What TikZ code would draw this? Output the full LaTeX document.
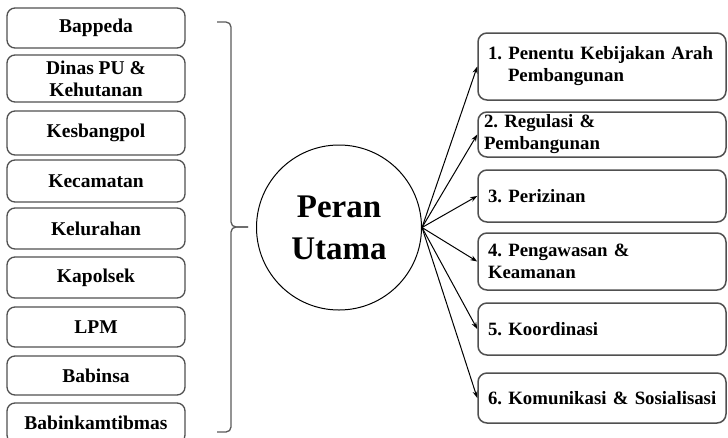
\documentclass[tikz,border=0pt]{standalone}
\usepackage{fontspec}
\setmainfont{Liberation Serif}
\usetikzlibrary{arrows.meta}
\definecolor{boxgray}{HTML}{505050}
\definecolor{bracegray}{HTML}{5A5A5A}

\begin{document}
\begin{tikzpicture}[x=1pt, y=-1pt, >={Stealth[length=7pt,width=5pt]}, line width=1pt,
  font=\bfseries\frenchspacing\fontsize{19.5}{22}\selectfont,
  unitbox/.style={draw=boxgray, line width=1.3pt, rounded corners=8pt, minimum width=178pt, inner sep=1pt, align=center},
  rolebox/.style={draw=boxgray, line width=1.5pt, rounded corners=9pt, text width=240pt, inner xsep=4pt, inner ysep=1pt, align=left,
    font=\bfseries\frenchspacing\fontsize{18.8}{22}\selectfont}]
  \useasboundingbox (0,0) rectangle (728,437);
  \node[unitbox, minimum height=40pt] (bappeda) at (96,28) {Bappeda};
  \node[unitbox, minimum height=47pt] (dinaspu) at (96,78.5) {Dinas PU \&\\Kehutanan};
  \node[unitbox, minimum height=44pt] (kesbangpol) at (96,133) {Kesbangpol};
  \node[unitbox, minimum height=42pt] (kecamatan) at (96,181) {Kecamatan};
  \node[unitbox, minimum height=41pt] (kelurahan) at (96,228.5) {Kelurahan};
  \node[unitbox, minimum height=41pt] (kapolsek) at (96,277.5) {Kapolsek};
  \node[unitbox, minimum height=40pt] (lpm) at (96,327) {LPM};
  \node[unitbox, minimum height=39pt] (babinsa) at (96,375.5) {Babinsa};
  \node[unitbox, minimum height=40pt] (babinkam) at (96,423) {Babinkamtibmas};
  \coordinate (bracetop) at (217,22);
  \coordinate (bracetip) at (248,227);
  \coordinate (bracebot) at (217,432);
  \draw[bracegray, line width=1.3pt, rounded corners=5pt] (bracetop) -- (231,22) -- (231,227) -- (bracetip);
  \draw[bracegray, line width=1.3pt, rounded corners=5pt] (bracetip) -- (231,227) -- (231,432) -- (bracebot);
  \node[circle, draw, line width=1pt, minimum size=165pt, align=center,
        font=\bfseries\fontsize{33}{42}\selectfont] (peran) at (339,227.5) {Peran\\Utama};
  \node[rolebox, minimum height=67pt] (kebijakan) at (602,66.5) {\hspace*{6pt}1. Penentu Kebijakan Arah\\\hspace*{26pt}Pembangunan};
  \node[rolebox, minimum height=45pt] (regulasi) at (602,134.5) {\hspace*{2pt}2. Regulasi \&\\\hspace*{2pt}Pembangunan};
  \node[rolebox, minimum height=52pt] (perizinan) at (602,196) {\hspace*{6pt}3. Perizinan};
  \node[rolebox, minimum height=57pt] (pengawasan) at (602,261.5) {\hspace*{6pt}4. Pengawasan \&\\\hspace*{6pt}Keamanan};
  \node[rolebox, minimum height=52pt] (koordinasi) at (602,329) {\hspace*{6pt}5. Koordinasi};
  \node[rolebox, minimum height=50pt] (komunikasi) at (602,398) {\hspace*{6pt}6. Komunikasi \& Sosialisasi};
  \draw[->] (peran.east) -- (kebijakan.west);
  \draw[->] (peran.east) -- (regulasi.west);
  \draw[->] (peran.east) -- (perizinan.west);
  \draw[->] (peran.east) -- (pengawasan.west);
  \draw[->] (peran.east) -- (koordinasi.west);
  \draw[->] (peran.east) -- (komunikasi.west);
\end{tikzpicture}
\end{document}
